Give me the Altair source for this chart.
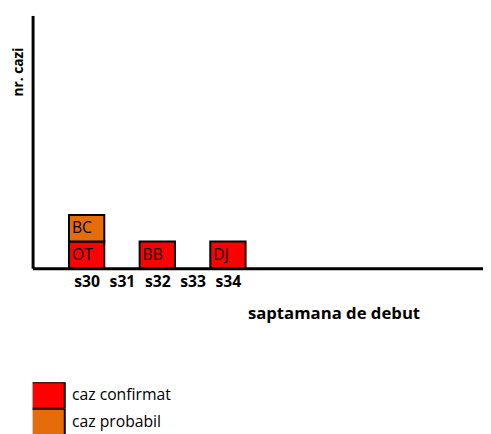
import altair as alt
import pandas as pd

weeks = [30, 30, 32, 34]
codes = ["OT", "BC", "BB", "DJ"]
status = ["caz confirmat", "caz probabil", "caz confirmat", "caz confirmat"]
week_ticks = [30, 31, 32, 33, 34]
status_order = ["caz confirmat", "caz probabil"]
status_colors = ["#FF0000", "#E46C0A"]

df = pd.DataFrame({"week": weeks, "code": codes, "status": status})

FONT = "Open Sans"

base = alt.Chart(df).transform_window(
    level="row_number()", groupby=["week"], sort=[{"field": "status"}]
).transform_calculate(
    x0="datum.week - 0.5", x1="datum.week + 0.5",
    y0="datum.level - 1", y1="datum.level"
)

xscale = alt.Scale(domain=[28.47, 41.22], nice=False, zero=False)
yscale = alt.Scale(domain=[0, 9.5], nice=False)

rects = base.mark_rect(stroke="black", strokeWidth=2).encode(
    x=alt.X("x0:Q", scale=xscale, axis=alt.Axis(
        values=week_ticks, labelExpr="'s' + datum.value", ticks=False, grid=False,
        labelFontWeight="bold", labelFontSize=16, labelFont=FONT, labelColor="black",
        labelPadding=6, domainColor="black", domainWidth=3,
        title="saptamana de debut", titleFont=FONT, titleFontSize=17,
        titleFontWeight="bold", titleColor="black", titleX=306, titleY=46,
        titleBaseline="middle", titleAlign="center")),
    x2="x1:Q",
    y=alt.Y("y0:Q", scale=yscale, axis=alt.Axis(
        labels=False, ticks=False, grid=False, domainColor="black", domainWidth=3,
        title="nr. cazi", titleFont=FONT, titleFontSize=14, titleFontWeight="bold",
        titleColor="black", titleX=-14, titleY=57, titleAngle=270,
        titleAlign="center", titleBaseline="middle")),
    y2="y1:Q",
    color=alt.Color("status:N", scale=alt.Scale(domain=status_order, range=status_colors),
                    legend=alt.Legend(
                        title=None, orient="none", legendX=0, legendY=373,
                        symbolType="M-1.35,-1L1.35,-1L1.35,1L-1.35,1Z",
                        symbolSize=729, symbolStrokeColor="black", symbolStrokeWidth=2,
                        symbolOpacity=1, clipHeight=27,
                        rowPadding=0, padding=0, labelOffset=11,
                        labelFont=FONT, labelFontSize=16, labelColor="black")),
)

texts = base.mark_text(align="left", baseline="middle", dx=3, font=FONT,
                       fontSize=16, color="black").encode(
    x=alt.X("x0:Q", scale=xscale),
    y=alt.Y("ymid:Q", scale=yscale),
    text="code:N",
).transform_calculate(ymid="datum.level - 0.5")

chart = alt.layer(rects, texts).properties(
    width=458, height=257,
    autosize=alt.AutoSizeParams(type="none"),
    padding={"left": 25, "top": 4, "right": 0, "bottom": 165},
).configure_view(stroke=None)

chart.save("out.html", embed_options={"renderer": "svg", "actions": False})
